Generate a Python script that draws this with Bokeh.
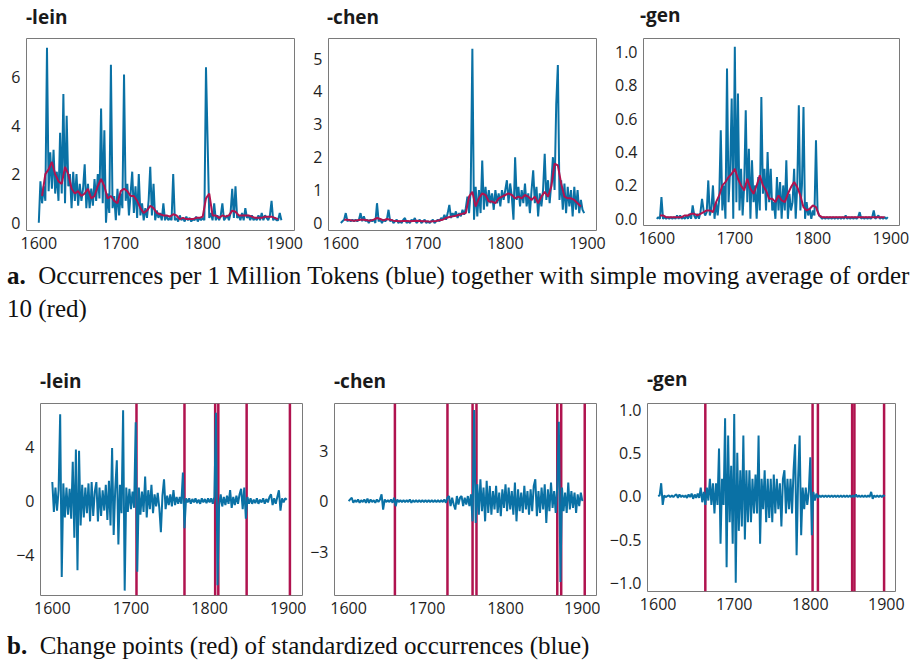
from bokeh.plotting import figure
from bokeh.models import Range1d, FixedTicker, Span, Div, GlobalInlineStyleSheet
from bokeh.layouts import column, row
from bokeh.embed import file_html
from bokeh.resources import INLINE

# ---------------- data ----------------
years = list(range(1600, 1898, 2))        # top row, 149 points
ma_years = list(range(1604, 1896, 4))     # moving-average points, 73
years_std = list(range(1600, 1900, 2))    # bottom row, 150 points

titles = ["-lein", "-chen", "-gen"]

lein_occ = [
    0.0, 1.7, 0.8, 1.5, 0.9,  7.2, 1.3, 2.9, 1.4, 3.0,  1.2, 2.1, 0.9, 3.7, 1.2,
    5.3, 0.8, 4.4, 1.5, 2.0,  0.6, 2.1, 0.9, 2.0, 0.7,  1.6, 0.9, 1.4, 2.4, 0.6,
    1.6, 0.6, 1.4, 0.7, 1.8,  0.9, 2.0, 1.0, 4.7, 0.8,  3.8, 0.0, 1.2, 0.4, 6.5,
    0.6, 1.1, 0.1, 1.4, 0.3,  1.2, 0.6, 6.1, 0.9, 1.6,  0.3, 1.2, 2.1, 0.4, 1.5,
    0.2, 2.0, 0.3, 0.8, 0.1,  0.6, 0.2, 0.9, 2.3, 0.3,  1.6, 0.1, 0.5, 0.2, 0.4,
    0.1, 0.8, 0.1, 0.3, 0.1,  0.2, 0.1, 2.0, 0.1, 0.2,  0.05, 0.3, 0.1, 0.2, 0.05,
    0.25, 0.1, 0.2, 0.05, 0.15,  0.1, 0.25, 0.05, 0.2, 0.1,  0.2, 0.1, 6.4, 3.3, 0.2,
    0.4, 0.1, 0.8, 0.1, 0.3,  0.1, 0.3, 0.8, 0.1, 0.2,  0.3, 0.1, 0.4, 1.4, 0.2,
    1.5, 0.2, 0.3, 0.1, 0.4,  0.1, 0.6, 0.2, 0.3, 0.1,  0.3, 0.1, 0.2, 0.1, 0.3,
    0.1, 0.4, 0.1, 0.3, 0.2,  0.1, 0.3, 0.9, 0.1, 0.2,  0.1, 0.1, 0.4, 0.1]
lein_ma = [
    1.1, 2.0, 2.2, 2.5, 2.0, 1.7, 1.6, 2.3, 2.0, 1.4,
    1.2, 1.3, 1.1, 1.2, 1.4, 1.0, 1.1, 1.5, 1.8, 1.5,
    1.0, 1.1, 0.9, 0.8, 1.3, 1.4, 1.3, 1.1, 1.1, 0.9,
    0.6, 0.4, 0.5, 0.7, 0.6, 0.4, 0.35, 0.3, 0.3, 0.25,
    0.35, 0.3, 0.15, 0.2, 0.15, 0.15, 0.15, 0.2, 0.2, 0.25,
    1.0, 1.2, 0.3, 0.3, 0.2, 0.3, 0.25, 0.3, 0.5, 0.45,
    0.3, 0.3, 0.3, 0.3, 0.25, 0.2, 0.2, 0.2, 0.25, 0.25,
    0.25, 0.2, 0.15]

chen_occ = [
    0.0, 0.05, 0.1, 0.3, 0.05,  0.1, 0.05, 0.1, 0.05, 0.1,  0.05, 0.1, 0.3, 0.05, 0.2,
    0.05, 0.1, 0.0, 0.1, 0.05,  0.1, 0.0, 0.6, 0.05, 0.1,  0.0, 0.1, 0.05, 0.1, 0.4,
    0.05, 0.1, 0.0, 0.05, 0.1,  0.0, 0.05, 0.0, 0.1, 0.15,  0.0, 0.05, 0.0, 0.1, 0.05,
    0.15, 0.0, 0.05, 0.1, 0.0,  0.05, 0.1, 0.0, 0.05, 0.0,  0.05, 0.1, 0.0, 0.05, 0.1,
    0.05, 0.15, 0.1, 0.25, 0.1,  0.3, 0.55, 0.15, 0.3, 0.2,  0.35, 0.15, 0.3, 0.2, 0.4,
    0.25, 0.45, 0.8, 0.3, 1.0,  5.3, 0.1, 1.1, 0.2, 1.0,  0.3, 1.9, 0.4, 1.1, 0.5,
    1.0, 0.6, 0.9, 0.4, 1.0,  0.6, 0.9, 0.5, 1.0, 0.7,  1.0, 1.3, 0.6, 1.2, 0.8,
    0.1, 2.0, 0.7, 1.1, 0.5,  1.0, 0.6, 1.2, 0.5, 0.9,  0.3, 1.0, 1.6, 0.6, 1.1,
    0.2, 0.9, 0.5, 1.0, 2.1,  0.7, 1.3, 0.6, 1.2, 2.0,  1.0, 3.6, 4.8, 0.7, 1.3,
    0.4, 1.2, 0.3, 1.1, 0.5,  1.0, 0.2, 1.1, 0.4, 1.0,  0.3, 0.7, 0.4, 0.3]
chen_ma = [
    0.1, 0.1, 0.08, 0.07, 0.08, 0.1, 0.1, 0.08, 0.07, 0.1,
    0.15, 0.12, 0.08, 0.12, 0.1, 0.07, 0.06, 0.05, 0.06, 0.06,
    0.05, 0.06, 0.07, 0.06, 0.05, 0.05, 0.04, 0.05, 0.06, 0.08,
    0.1, 0.15, 0.18, 0.2, 0.22, 0.25, 0.28, 0.3, 0.8, 0.95,
    0.5, 0.75, 0.9, 0.85, 0.65, 0.65, 0.6, 0.75, 0.8, 0.85,
    0.9, 0.85, 0.75, 0.8, 0.75, 0.85, 0.8, 0.7, 0.8, 0.6,
    0.8, 0.95, 0.8, 1.1, 1.8, 1.75, 1.2, 0.8, 0.75, 0.75,
    0.7, 0.6, 0.5]

gen_occ = [
    0.0, 0.01, 0.0, 0.13, 0.0,  0.01, 0.0, 0.01, 0.0, 0.01,  0.0, 0.01, 0.0, 0.02, 0.0,
    0.02, 0.0, 0.01, 0.0, 0.02,  0.0, 0.03, 0.0, 0.08, 0.02,  0.0, 0.03, 0.0, 0.04, 0.12,
    0.05, 0.02, 0.04, 0.23, 0.02,  0.06, 0.2, 0.0, 0.1, 0.02,  0.12, 0.53, 0.05, 0.2, 0.0,
    0.9, 0.1, 0.3, 0.72, 0.0,  1.03, 0.1, 0.75, 0.05, 0.3,  0.02, 0.2, 0.65, 0.1, 0.42,
    0.0, 0.35, 0.1, 0.2, 0.0,  0.25, 0.05, 0.73, 0.15, 0.3,  0.05, 0.4, 0.1, 0.3, 0.05,
    0.1, 0.0, 0.25, 0.05, 0.22,  0.0, 0.2, 0.05, 0.35, 0.0,  0.15, 0.05, 0.1, 0.3, 0.0,
    0.2, 0.68, 0.05, 0.2, 0.67,  0.0, 0.1, 0.02, 0.06, 0.0,  0.05, 0.02, 0.47, 0.05, 0.02,
    0.01, 0.0, 0.01, 0.0, 0.01,  0.0, 0.01, 0.0, 0.01, 0.0,  0.01, 0.0, 0.01, 0.0, 0.01,
    0.0, 0.02, 0.0, 0.01, 0.0,  0.01, 0.0, 0.01, 0.0, 0.01,  0.04, 0.0, 0.01, 0.0, 0.01,
    0.0, 0.01, 0.0, 0.01, 0.05,  0.0, 0.01, 0.02, 0.0, 0.01,  0.0, 0.01, 0.0, 0.01]
gen_ma = [
    0.02, 0.02, 0.01, 0.01, 0.01, 0.01, 0.01, 0.01, 0.02, 0.02,
    0.03, 0.03, 0.02, 0.03, 0.04, 0.05, 0.05, 0.04, 0.1, 0.14,
    0.2, 0.22, 0.25, 0.27, 0.3, 0.24, 0.2, 0.17, 0.24, 0.18,
    0.15, 0.2, 0.26, 0.2, 0.17, 0.12, 0.12, 0.1, 0.14, 0.11,
    0.1, 0.15, 0.19, 0.22, 0.19, 0.14, 0.07, 0.05, 0.06, 0.08,
    0.07, 0.02, 0.01, 0.01, 0.01, 0.01, 0.01, 0.01, 0.01, 0.01,
    0.01, 0.01, 0.01, 0.01, 0.01, 0.01, 0.01, 0.01, 0.01, 0.01,
    0.01, 0.01, 0.01]

lein_std = [
    1.4, -0.8, 1.0, -0.7, 0.8,  6.4, -5.6, 1.3, -1.2, 1.0,  -1.0, 0.9, -1.3, 2.9, -2.7,
    3.8, -5.1, 3.7, -1.8, 1.2,  -1.2, 1.0, -0.9, 1.3, -1.5,  1.4, -1.1, 0.7, 1.4, -1.5,
    1.0, -1.1, 0.8, -0.7, 1.2,  -1.4, 1.5, -1.8, 3.9, -2.5,  0.9, 3.0, -3.2, 1.2, -0.9,
    6.7, -6.6, 1.0, -0.8, 0.9,  -0.6, 0.7, -0.5, 5.8, -5.2,  1.0, -1.0, 0.7, -0.8, 1.8,
    -1.2, 0.8, -0.6, 1.2, -0.9,  0.5, -0.4, 0.6, -0.5, -2.3,  0.4, 1.6, -0.6, 0.4, -0.3,
    0.5, -0.4, 0.8, -0.3, 0.3,  -0.2, 0.3, -0.2, 2.1, -2.0,  0.2, -0.1, 0.2, -0.2, 0.15,
    -0.1, 0.2, -0.15, 0.1, -0.2,  0.2, -0.1, 0.15, -0.15, 0.2,  -0.1, 0.2, -0.2, 0.3, 6.5,
    -6.2, -0.3, 0.5, -0.4, 0.3,  -0.3, 0.4, -0.2, 0.8, -0.5,  0.3, -0.3, 0.4, -0.2, 0.5,
    0.9, -0.6, 1.0, -1.3, 0.3,  -0.2, 0.2, -0.2, 0.1, -0.15,  0.2, -0.2, 0.1, -0.1, 0.2,
    -0.2, 0.15, -0.1, 0.3, 0.5,  -0.3, 0.2, -0.2, 0.3, 0.8,  -0.7, 0.2, -0.1, 0.2, 0.1]
chen_std = [
    0.0, 0.1, 0.2, -0.1, 0.05,  -0.05, 0.1, -0.1, 0.05, -0.05,  0.1, -0.1, 0.15, -0.1, 0.1,
    -0.05, 0.05, -0.1, 0.1, -0.05,  0.1, 0.4, -0.5, 0.1, -0.05,  0.05, -0.05, 0.1, -0.1, 0.2,
    -0.3, 0.1, -0.05, 0.05, -0.05,  0.05, -0.05, 0.05, -0.05, 0.1,  -0.1, 0.05, -0.05, 0.05, -0.05,
    0.05, -0.05, 0.05, -0.05, 0.05,  -0.05, 0.05, -0.05, 0.05, -0.05,  0.05, -0.05, 0.05, -0.05, 0.05,
    -0.05, 0.1, -0.1, 0.2, 0.3,  -0.3, 0.2, -0.2, -0.5, 0.3,  -0.2, 0.2, 0.3, -0.3, 0.2,
    -0.2, 0.3, -0.3, 0.4, -1.2,  5.4, -1.3, 1.0, -0.8, 1.3,  -0.6, 0.8, -1.2, 1.2, -0.7,
    0.9, -0.8, 0.6, -0.5, 0.9,  -0.7, 0.5, -0.9, 0.7, -0.4,  1.0, -0.6, 0.8, -0.5, 0.6,
    -0.8, 1.1, -1.2, 0.7, -0.6,  0.5, -0.7, 0.9, -0.5, 0.6,  -0.8, 0.7, -0.6, 0.9, 1.3,
    -0.9, 0.6, -0.7, 0.8, -0.5,  1.0, -1.3, 0.7, -0.6, 1.1,  -0.4, 0.6, -0.7, 0.9, 4.7,
    -4.8, 0.8, -0.6, 0.5, -0.7,  1.1, -0.5, 0.6, -0.4, 0.5,  -0.7, 0.4, -0.3, 0.5, 0.0]
gen_std = [
    0.0, 0.01, 0.15, -0.1, 0.01,  -0.01, 0.0, 0.01, -0.01, 0.01,  -0.01, 0.01, 0.02, -0.02, 0.02,
    -0.01, 0.01, -0.01, 0.01, -0.02,  0.02, -0.01, 0.03, -0.03, 0.02,  -0.02, 0.03, -0.02, 0.1, -0.07,
    0.05, -0.1, 0.1, -0.05, 0.2,  -0.1, 0.15, -0.2, 0.15, -0.1,  0.55, -0.55, 0.2, -0.1, 0.9,
    -0.82, 0.7, -0.3, 0.35, -0.55,  0.95, -1.0, 0.5, -0.4, 0.3,  -0.35, 0.7, -0.5, 0.3, -0.3,
    0.3, -0.3, 0.2, -0.2, 0.25,  -0.2, 0.7, -0.55, 0.2, -0.15,  0.3, -0.3, 0.2, -0.25, 0.2,
    -0.3, 0.25, -0.2, 0.2, -0.15,  0.15, -0.35, 0.2, 0.3, -0.2,  0.2, -0.15, 0.2, -0.2, 0.3,
    0.6, -0.68, 0.2, 0.7, -0.45,  0.1, -0.15, 0.1, -0.1, 0.05,  0.45, -0.45, 0.05, -0.05, 0.03,
    -0.02, 0.01, -0.01, 0.01, -0.01,  0.01, -0.01, 0.01, -0.01, 0.01,  -0.01, 0.01, -0.01, 0.01, -0.01,
    0.01, -0.01, 0.01, -0.01, 0.01,  -0.01, 0.01, -0.01, 0.01, -0.01,  0.02, -0.01, 0.01, -0.01, 0.01,
    -0.01, 0.01, -0.01, 0.01, -0.01,  0.05, -0.03, 0.01, -0.01, 0.01,  -0.01, 0.01, -0.01, 0.01, 0.0]

lein_cp = [1707, 1768, 1807, 1811, 1847, 1902]
chen_cp = [1659, 1726, 1758, 1763, 1866, 1871, 1901]
gen_cp = [1662, 1803, 1810, 1855, 1858, 1897]

x_ticks = [1600, 1700, 1800, 1900]

# ---------------- styling ----------------
BLUE = "#0a71a5"
RED = "#b0134f"
FONT = "Open Sans"


def make_fig(xr, yr, fw, fh, bl, br, bt, bb, yticks, ylabels):
    p = figure(output_backend="svg", toolbar_location=None,
               frame_width=fw, frame_height=fh,
               min_border_left=bl, min_border_right=br,
               min_border_top=bt, min_border_bottom=bb,
               x_range=Range1d(*xr), y_range=Range1d(*yr))
    p.outline_line_color = "#7a7a7a"
    p.outline_line_width = 1
    p.xgrid.visible = False
    p.ygrid.visible = False
    for ax in (p.xaxis[0], p.yaxis[0]):
        ax.axis_line_color = None
        ax.major_tick_line_color = None
        ax.minor_tick_line_color = None
        ax.major_tick_out = 0
        ax.major_tick_in = 0
        ax.minor_tick_out = 0
        ax.major_label_text_font = FONT
        ax.major_label_text_font_size = "16px"
        ax.major_label_text_color = "#1e1e1e"
    p.xaxis[0].ticker = FixedTicker(ticks=x_ticks)
    p.xaxis[0].major_label_standoff = 6
    p.yaxis[0].ticker = FixedTicker(ticks=yticks)
    p.yaxis[0].major_label_overrides = dict(zip(yticks, ylabels))
    p.yaxis[0].major_label_standoff = 6
    return p


def title_row(lefts, tops, height):
    spans = "".join(
        f"<span style=\"position:absolute;left:{l}px;top:{t}px\">{txt}</span>"
        for txt, l, t in zip(titles, lefts, tops))
    html = ("<div style=\"position:relative;width:917px;height:" + str(height) + "px;"
            "font-family:'Open Sans',sans-serif;font-weight:bold;font-size:19px;"
            "line-height:26px;color:#1a1a1a;white-space:nowrap\">" + spans + "</div>")
    return Div(text=html, width=917, height=height, margin=(0, 0, 0, 0))


# top row
p1 = make_fig((1585, 1912), (-0.32, 7.58), 268, 192, 26, 16, 5, 29,
              [0, 2, 4, 6], ["0", "2", "4", "6"])
p2 = make_fig((1585, 1911), (-0.23, 5.61), 268, 192, 17, 15, 5, 29,
              [0, 1, 2, 3, 4, 5], ["0", "1", "2", "3", "4", "5"])
p3 = make_fig((1583, 1911), (-0.04, 1.08), 256, 187, 30, 21, 10, 29,
              [0, 0.2, 0.4, 0.6, 0.8, 1.0], ["0.0", "0.2", "0.4", "0.6", "0.8", "1.0"])

for p, occ, ma in ((p1, lein_occ, lein_ma), (p2, chen_occ, chen_ma), (p3, gen_occ, gen_ma)):
    p.line(years, occ, line_color=BLUE, line_width=2)
    p.line(ma_years, ma, line_color=RED, line_width=2)

# bottom row
p4 = make_fig((1585, 1918), (-6.96, 7.19), 262, 192, 40, 4, 7, 29,
              [-4, 0, 4], ["\u22124", "0", "4"])
p5 = make_fig((1582, 1916), (-5.6, 5.79), 262, 192, 28, 4, 7, 29,
              [-3, 0, 3], ["\u22123", "0", "3"])
p6 = make_fig((1586, 1912), (-1.10, 1.07), 248, 188, 47, 22, 11, 29,
              [-1.0, -0.5, 0.0, 0.5, 1.0], ["\u22121.0", "\u22120.5", "0.0", "0.5", "1.0"])

for p, std, cps in ((p4, lein_std, lein_cp), (p5, chen_std, chen_cp), (p6, gen_std, gen_cp)):
    for cp in cps:
        p.add_layout(Span(location=cp, dimension="height", line_color=RED,
                          line_width=2.5, level="underlay"))
    p.line(years_std, std, line_color=BLUE, line_width=2)

titles_top = title_row([26, 327, 640], [4, 4, 2], 28)
titles_bottom = title_row([40, 334, 647], [8, 8, 6], 32)

SERIF = "'Liberation Serif', 'Times New Roman', serif"
cap_a = Div(
    text=("<div style=\"font-family:" + SERIF + ";font-size:25px;line-height:33px;"
          "color:#111;white-space:nowrap;padding-top:5px;padding-left:7px\">"
          "<b>a.</b>&nbsp; Occurrences per 1 Million Tokens (blue) together with simple moving average of order"
          "<br>10 (red)</div>"),
    width=917, height=106, margin=(0, 0, 0, 0))
cap_b = Div(
    text=("<div style=\"font-family:" + SERIF + ";font-size:25px;line-height:33px;"
          "color:#111;white-space:nowrap;padding-top:9px;padding-left:7px\">"
          "<b>b.</b>&nbsp; Change points (red) of standardized occurrences (blue)</div>"),
    width=917, height=40, margin=(0, 0, 0, 0))

layout = column(
    titles_top,
    row(p1, p2, p3, spacing=0),
    cap_a,
    titles_bottom,
    row(p4, p5, p6, spacing=0),
    cap_b,
    spacing=0,
    stylesheets=[GlobalInlineStyleSheet(css="html, body { overflow: hidden; }")],
)

open("out.html", "w").write(file_html(layout, INLINE))
